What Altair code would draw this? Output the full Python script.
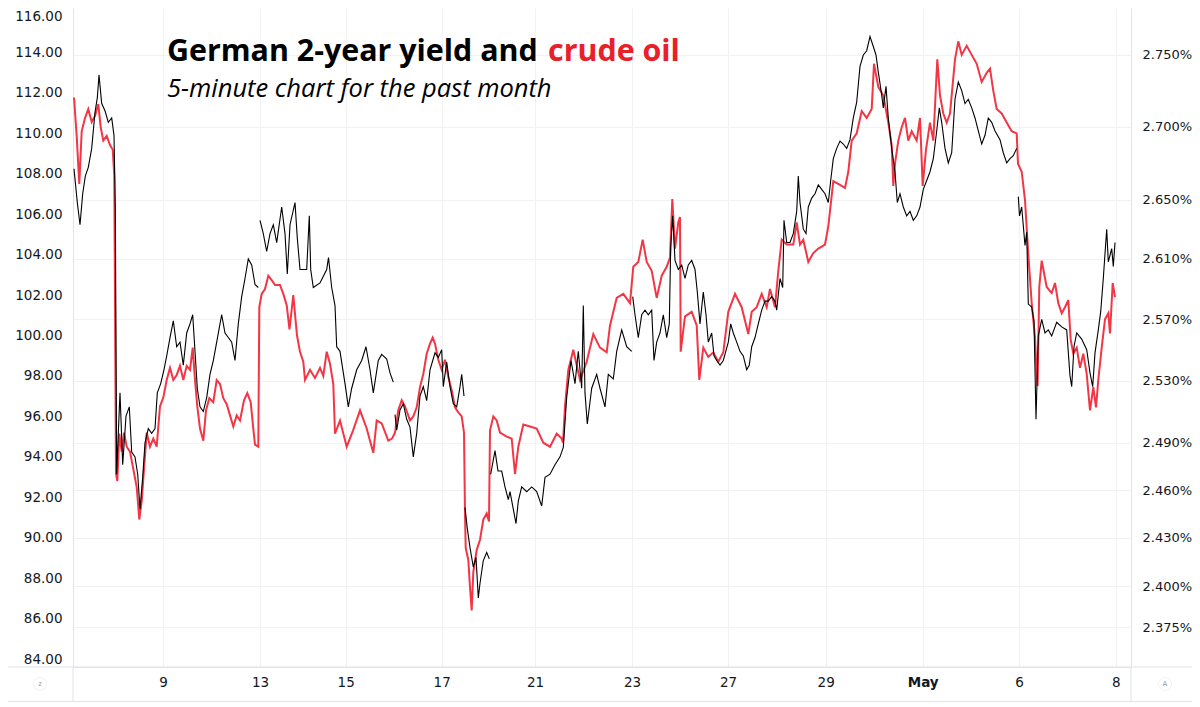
import altair as alt
import pandas as pd

# ---------------- data (trading hours since start, value) ----------------
# crude oil, USD (left axis)
oil_a = [(0.5,111.77),(1.85,109.87),(3.15,107.5),(4.35,110.1),(6,110.76),(7.65,111.2),(9.35,110.56),(11,110.86),
         (12.65,111.45),(13.85,110.3),(15.15,109.64),(16.85,109.87),(18.5,109.42),(19.85,109.2),(20.65,107.9),
         (21.5,93.15),(22.15,92.8),(23.15,95.15),(24.35,94.26),(25.5,95.2),(26.85,94.5),(28.5,94.26),(30.15,93.4),
         (31.85,92.5),(33.15,90.9),(34.35,91.8),(35.65,93.6),(36.85,95.2),(38.5,94.5),(40.15,94.9),(41.85,94.5),
         (43.5,96.5),(45.15,96.93),(46.85,97.8),(48.5,98.4),(50.15,97.8),(51.85,98.05),(53.5,98.5),(55.15,97.8),
         (56.85,98.5),(58.5,98.3),(59.85,99.4),(61,97.8),(62.15,96.5),(63.5,95.4),(65.15,94.8),(66.5,96.3),
         (68.15,96.9),(70.15,96.7),(71.85,97.8),(73.5,97.6),(75.15,96.9),(76.85,96.6),(78.5,96.05),(80.15,95.5),
         (81.85,96.05),(83.5,95.8),(85.5,96.8),(87.15,97.15),(88.85,96.7),(90.15,95.4),(91,94.6),(92.65,94.5)]
oil_b = [(93.15,101.4),(94.35,102.06),(96,102.3),(97.65,102.96),(99.35,102.74),(101,102.5),(103.5,102.5),
         (105.15,102.06),(106.85,101.5),(108.25,100.3),(110.15,102.0),(112,100.0),(113.5,99.2),(115.15,98.7),
         (116,97.8),(118.5,98.3),(121,97.9),(123.5,98.4),(125.15,98.0),(126.85,99.2),(128.5,98.6),(130.15,97.6),
         (131,95.15),(133.5,95.8),(136.85,94.5),(140,95.3),(143.5,96.3),(146.85,95.4),(148.5,94.8),(150.15,94.2),
         (151.85,95.8),(154.35,95.65),(157.65,94.8),(159.5,94.9),(161,95.2),(162.65,96.3),(164.35,96.8),(166,96.5),
         (168.5,95.8),(170.15,96.0),(171.85,96.45),(173.5,97.45),(175.15,98.1),(176.85,99.1),(178.5,99.6),
         (179.85,99.9),(181,99.6),(182.65,98.8),(184.35,98.3),(186,98.8),(187.65,97.95),(189.35,97.3),(191,96.45),
         (192.65,96.2),(194.35,96.0),(195.5,95.2),(196,91.2),(196.35,89.5),(197.65,88.9),(198.5,87.55),(199.35,86.4),
         (200.15,88.3),(201.85,89.4),(203.5,89.9),(205.15,90.9),(206.85,91.2),(208,90.8)]
oil_c = [(208.5,95.3),(210.15,96.0),(211.85,95.8),(213.5,95.2),(216.85,95.0),(219.35,94.9),(221,93.15),(222.65,94.5),
         (225.15,95.6),(228.5,95.5),(231.85,95.4),(235.15,94.7),(238.5,94.5),(241.85,95.15),(244.35,94.9),(245,94.7),
         (246,96.5),(247.65,98.3),(250.15,99.3),(253.5,97.8),(256.85,98.7),(260.15,100.07),(263.5,99.4),(266.85,99.17),
         (268.5,100.5),(271.85,101.86),(275.15,102.06),(278.5,101.6),(280.15,103.4),(282.65,103.64),(284.85,104.74),
         (286.85,103.64),(289.35,103.2),(291.85,101.86),(294.35,102.96),(296.85,103.4),(298.5,103.85),(299.65,106.75),
         (301,104.3),(302.65,105.6),(303.5,105.86),(303.85,99.2),(306,100.95),(309.35,101.17),(311.85,100.5),
         (313.15,97.8),(315.15,99.4),(317.65,98.94),(320.15,99.17),(322.65,98.7),(325.15,99.17)]
oil_d = [(327.65,101.17),(331,102.06),(334.35,101.4),(337.65,100.07),(339.35,101.17),(341.85,101.4),(344.35,102.06),
         (346.85,101.4),(348.5,102.3),(351,101.4),(352.65,103.2),(354.35,104.74),(356.85,104.5),(360.15,104.5),
         (361.85,105.6),(363.5,104.5),(365.15,104.74),(367.65,103.64),(370.15,104.08),(372.65,104.3),(376,104.5),
         (377.65,105.4),(380.15,107.64),(383.5,107.45),(386,107.3),(387.65,108.1),(389.35,109.64),(391.85,110.0),
         (394.35,111.1),(396.85,110.76),(399.35,111.2),(400.5,113.44),(402.65,112.3),(405.15,111.87),(407.65,110.53),
         (409.35,109.42),(410.15,107.4),(411,108.5),(412.65,109.64),(414.35,110.3),(416,110.76),(417.65,109.64),
         (419.35,110.1),(421.85,109.64),(423.5,110.76),(424.85,107.4),(426.5,109.2),(428.5,110.53),(430.15,109.64),
         (432.15,113.66),(433.5,111.87),(435.15,110.98),(436.85,110.53),(438.5,110.98)]
oil_e = [(441,113.66),(442.65,114.55),(444.35,113.88),(446.85,114.33),(449.35,113.88),(451.85,113.44),(454.35,112.54),
         (456.85,112.99),(458.5,113.2),(460.15,112.1),(461.85,111.2),(464.35,110.98),(466.85,110.53),(469.35,110.1),
         (471.85,110.0),(472.5,108.5),(474.35,108.1),(476,106.7),(477.65,104.0),(479.35,101.6),(481,99.9),
         (481.85,98.1),(482.3,97.5),(483.15,102.4),(484.35,103.7),(486.85,102.4),(489.35,102.1),(491,102.6),
         (492.65,101.6),(494.35,101.1),(496,101.4),(497.65,101.75),(498.85,99.8),(500.15,99.1),(501.85,99.4),
         (503.5,98.4),(505.15,99.1),(506.85,98.1),(508.5,96.3),(510.15,97.45),(511.5,96.45),(512.65,97.8),
         (514.35,99.4),(516,100.8),(517.65,101.1),(518.5,100.1),(519.85,102.6),(521,101.9)]

# German 2-year yield, % (right axis), one list per trading session block
yld_s1 = [(0.5,2.671),(2.15,2.648),(3.5,2.633),(4.85,2.654),(6.15,2.666),(7.65,2.672),(9.35,2.685),(11,2.710),
          (12.15,2.720),(13,2.736),(14.35,2.716),(16,2.711),(17.65,2.703),(19.35,2.706),(20.5,2.694),(21.15,2.645),
          (21.85,2.470),(22.65,2.496),(23.5,2.522),(24.85,2.476),(26.5,2.507),(28.15,2.513),(29.35,2.484),(31,2.481),
          (32.35,2.470),(33.5,2.448),(34.85,2.468),(36,2.490),(37.65,2.499),(39.35,2.496),(41,2.499),(42.15,2.522),
          (43.85,2.528),(45.5,2.537),(46.85,2.546),(48.5,2.558),(50.15,2.569),(51.85,2.552),(53.5,2.555),(55.15,2.540),
          (56.85,2.561),(58.5,2.567),(59.85,2.573),(61,2.549),(62.15,2.525),(63.5,2.513),(65.15,2.510),(66.85,2.519),
          (68.5,2.534),(70.15,2.543),(71.85,2.555),(73.5,2.567),(74.35,2.573),(76,2.561),(77.65,2.558),(79.35,2.555),
          (81,2.543),(82.65,2.567),(84.35,2.585),(86,2.597),(87.65,2.610),(89.35,2.606),(91,2.593),(92.65,2.591)]
yld_s2 = [(93.5,2.636),(95.15,2.627),(96.85,2.615),(98.5,2.627),(100.15,2.633),(101.85,2.621),(104.35,2.645),
          (106,2.627),(107.15,2.600),(108.5,2.633),(111,2.648),(112.15,2.624),(113.5,2.603),(116.85,2.603),
          (118.15,2.639),(118.85,2.603),(120.15,2.591),(123.5,2.594),(126.85,2.603),(127.75,2.611),(129.35,2.591),
          (131,2.579),(131.85,2.552),(133.5,2.549),(136,2.528),(137.65,2.513),(139.35,2.525),(141.85,2.537),
          (144.35,2.543),(146.5,2.552),(148.5,2.537),(150.15,2.522),(152.65,2.543),(154.35,2.547),(156.85,2.544),
          (158.5,2.535),(160.15,2.529)]
yld_s3 = [(161,2.508),(161.85,2.498),(163.5,2.511),(165.15,2.515),(166.85,2.505),(168.5,2.500),(170.15,2.481),
          (171.85,2.496),(173.5,2.520),(175.15,2.526),(176.85,2.517),(178.5,2.537),(181,2.548),(182.65,2.545),
          (184.35,2.550),(185.15,2.526),(186.85,2.542),(188.5,2.526),(190.15,2.515),(191.85,2.513),(193.5,2.526),
          (194.35,2.534),(195.5,2.520)]
yld_s4 = [(196,2.449),(197.15,2.436),(198.5,2.424),(200.15,2.412),(201.5,2.418),(202.65,2.393),(203.5,2.402),
          (205.15,2.416),(206.85,2.421),(208.15,2.417)]
yld_s5 = [(208.85,2.470),(211,2.485),(212.5,2.472),(214.35,2.472),(216,2.462),(217.65,2.454),(218.5,2.459),
          (220.15,2.448),(221.5,2.439),(222.65,2.453),(224.35,2.462),(226.85,2.459),(229.35,2.462),(231.85,2.459),
          (234.35,2.450),(236,2.468),(238.5,2.470),(241,2.476),(243.5,2.481),(245.15,2.487),(246.85,2.519),
          (249,2.543),(251,2.528),(252.65,2.549),(254.35,2.525),(255.15,2.579),(256,2.522),(257.15,2.502),
          (259.35,2.525),(261.85,2.534),(263.5,2.525),(266,2.513),(267.65,2.534),(270.15,2.531),(271.85,2.549),
          (274.35,2.563),(276.85,2.552),(279.35,2.549)]
yld_s6 = [(279.85,2.585),(281,2.573),(282.65,2.558),(284.35,2.573),(286,2.576),(287.65,2.573),(289.35,2.576),
          (290.5,2.543),(291.85,2.555),(293.5,2.561),(295.15,2.573),(296.85,2.558),(298.15,2.567),(298.85,2.618),
          (299.85,2.639),(301,2.609),(302.65,2.603),(304.35,2.606),(306,2.597),(307.65,2.606),(309.35,2.609),
          (311,2.603),(312.15,2.588),(313.5,2.567),(315.15,2.588),(316.5,2.573),(317.65,2.555),(319.35,2.561),
          (320.5,2.546),(321.85,2.543),(323.5,2.540),(325.15,2.543),(327.65,2.555),(328.85,2.567),(330.15,2.561),
          (331.85,2.555),(333.5,2.549),(335.15,2.546),(336.85,2.537),(338.15,2.540),(339.35,2.552),(341,2.558),
          (342.65,2.567),(344.35,2.576),(346,2.582),(347.65,2.582),(349.35,2.585),(351,2.582),(351.85,2.576)]
yld_s6b = [(353.5,2.597),(354.85,2.591),(355.5,2.636),(356.85,2.621),(358.5,2.621),(360.15,2.627),(361.85,2.642),
           (362.65,2.666),(363.5,2.648),(365.15,2.630),(366.5,2.627),(367.65,2.645),(369.35,2.651),(371,2.654),
           (372.65,2.660),(374.35,2.657),(376,2.654),(377.65,2.648),(378.85,2.663),(380.15,2.678),(381.85,2.685),
           (383.5,2.690),(385.15,2.688),(386.85,2.685),(388.5,2.691),(390.15,2.706),(391.85,2.717),(393.5,2.742),
           (395.15,2.750),(396.85,2.753),(398.5,2.763),(400.15,2.756),(401.5,2.750),(402.65,2.738),(404.35,2.722),
           (405.15,2.713),(406.5,2.728),(407.65,2.706),(409.35,2.685),(411,2.669),(412.15,2.648),(413.5,2.654),
           (415.15,2.645),(416.85,2.639),(418.5,2.642),(420.15,2.636),(421.85,2.639),(423.5,2.645),(425.15,2.657),
           (426.85,2.663),(428.5,2.669),(430.15,2.678),(431.85,2.697),(433.15,2.713),(434.35,2.703),(436,2.685),
           (437.65,2.675),(439.35,2.682),(441,2.719),(442.65,2.731),(444.35,2.725),(446,2.716),(447.65,2.719),
           (449.35,2.713),(451,2.706),(452.65,2.697),(454.35,2.688),(456,2.694),(457.65,2.706),(459.35,2.703),
           (461,2.697),(463.5,2.691),(465.15,2.682),(466.85,2.675),(468.5,2.678),(470.15,2.680),(471.85,2.685)]
yld_s7 = [(472.65,2.652),(473.25,2.639),(474.35,2.645),(476,2.619),(476.85,2.628),(477.65,2.580),(479.35,2.578),
          (480.5,2.569),(481.5,2.505),(482.65,2.559),(484.35,2.570),(486,2.561),(487.65,2.563),(489.35,2.559),
          (491.85,2.568),(494.35,2.565),(496.85,2.563),(498.5,2.533),(499.35,2.526),(500.5,2.552),(501.85,2.561),
          (504.35,2.557),(506.85,2.550),(508.5,2.535),(509.85,2.526),(511,2.548),(512.65,2.563),(513.85,2.575),
          (515.15,2.597),(516.85,2.630),(517.65,2.608),(519.35,2.617),(520.15,2.605),(521,2.621)]

# x-axis ticks (trading hours) and their labels
tick_pos = [45, 93.5, 136.35, 184.35, 231, 279.5, 327.5, 376.35, 424.85, 473, 521.35]
tick_lab = ["9", "13", "15", "17", "21", "23", "27", "29", "May", "6", "8"]
oil_ticks = list(range(84, 117, 2))
yld_ticks = [2.375, 2.400, 2.430, 2.460, 2.490, 2.530, 2.570, 2.610, 2.650, 2.700, 2.750]

title_black = "German 2-year yield and"
title_red = "crude oil"
subtitle = "5-minute chart for the past month"

# ---------------- build tables ----------------
oil_df = pd.DataFrame(oil_a + oil_b + oil_c + oil_d + oil_e, columns=["t", "oil"])
rows = []
for i, seg in enumerate([yld_s1, yld_s2, yld_s3, yld_s4, yld_s5, yld_s6 + yld_s6b, yld_s7]):
    for t, v in seg:
        rows.append({"t": t, "yld": v, "seg": i})
yld_df = pd.DataFrame(rows)

W, H = 1058, 659
PAD_R = 61
RED = "#f23645"
TITLE_RED = "#e8202a"
GRID = "#f0f2f5"
BORDER = "#e0e3eb"
TXT = "#131722"
AX_FONT = "DejaVu Sans"

lab_js = "[" + ",".join("'%s'" % s for s in tick_lab) + "]"
pos_js = "[" + ",".join(str(p) for p in tick_pos) + "]"

x_enc = alt.X(
    "t:Q",
    scale=alt.Scale(domain=[0, 529], nice=False, zero=False),
    axis=alt.Axis(
        values=tick_pos, labelExpr=f"{lab_js}[indexof({pos_js}, datum.value)]",
        title=None, grid=True, gridColor=GRID, ticks=False, tickSize=0,
        domain=True, domainColor=BORDER, labelFont=AX_FONT, labelFontSize=13.5,
        labelColor=TXT, labelPadding=8, labelFlush=False,
        labelFontWeight={"condition": {"test": "datum.value == 424.85", "value": "bold"}, "value": "normal"},
    ),
)

red = alt.Chart(oil_df).mark_line(color=RED, strokeWidth=2, clip=True).encode(
    x=x_enc,
    y=alt.Y("oil:Q",
            scale=alt.Scale(domain=[83.606, 116.198], nice=False, zero=False),
            axis=alt.Axis(orient="left", values=oil_ticks, format=".2f", title=None, grid=False,
                          ticks=False, tickSize=0, domainColor=BORDER, labelFont=AX_FONT,
                          labelFontSize=13.5, labelColor=TXT, labelPadding=11, labelFlush=False,
                          labelOffset={"condition": {"test": "datum.value == 116", "value": 4}, "value": 0})),
)

black = alt.Chart(yld_df).mark_line(color="#000000", strokeWidth=1.1, clip=True).encode(
    x=x_enc,
    y=alt.Y("yld:Q",
            scale=alt.Scale(type="log", domain=[2.351, 2.7833], nice=False, zero=False),
            axis=alt.Axis(orient="right", values=yld_ticks, labelExpr="format(datum.value, '.3f') + '%'",
                          title=None, grid=True, gridColor=GRID, ticks=False, tickSize=0,
                          domainColor=BORDER, labelFont=AX_FONT, labelFontSize=13, labelColor=TXT,
                          labelPadding=11, labelFlush=False)),
    detail="seg:N",
)

one = pd.DataFrame({"k": [0]})
frame = [
    alt.Chart(one).mark_rule(color=BORDER, strokeWidth=1).encode(x=alt.value(0), y=alt.value(H), y2=alt.value(H + 35)),
    alt.Chart(one).mark_rule(color=BORDER, strokeWidth=1).encode(x=alt.value(W), y=alt.value(H), y2=alt.value(H + 35)),
    alt.Chart(one).mark_rule(color=BORDER, strokeWidth=1).encode(x=alt.value(-65), x2=alt.value(W + PAD_R), y=alt.value(H)),
    alt.Chart(one).mark_rule(color=BORDER, strokeWidth=1).encode(x=alt.value(-65), x2=alt.value(W + PAD_R), y=alt.value(H + 34.5)),
]

icons = pd.DataFrame({"s": ["z", "A"], "px": [-33, 1092]})
icon_ring = alt.Chart(icons).mark_point(shape="circle", size=170, filled=False, color="#edeef2", strokeWidth=1).encode(
    x=alt.X("px:Q", scale=None), y=alt.value(676))
icon_txt = alt.Chart(icons).mark_text(font=AX_FONT, fontSize=7, color="#9598a1").encode(
    x=alt.X("px:Q", scale=None), y=alt.value(676), text="s:N")

t1 = alt.Chart(pd.DataFrame({"s": [title_black]})).mark_text(
    font="Open Sans", fontWeight="bold", fontSize=30.4, align="left", baseline="alphabetic", color="#000000"
).encode(x=alt.value(94), y=alt.value(53), text="s:N")
t2 = alt.Chart(pd.DataFrame({"s": [title_red]})).mark_text(
    font="Open Sans", fontWeight="bold", fontSize=30.4, align="left", baseline="alphabetic", color=TITLE_RED
).encode(x=alt.value(475), y=alt.value(53), text="s:N")
t3 = alt.Chart(pd.DataFrame({"s": [subtitle]})).mark_text(
    font="Open Sans", fontStyle="italic", fontSize=25.5, align="left", baseline="alphabetic", color="#000000"
).encode(x=alt.value(94), y=alt.value(88.5), text="s:N")

chart = alt.layer(red, black, *frame, icon_ring, icon_txt, t1, t2, t3).resolve_scale(
    y="independent"
).properties(
    width=W, height=H,
    autosize=alt.AutoSizeParams(type="none"),
    padding={"left": 65, "top": 0, "right": PAD_R, "bottom": 35},
    background="white",
).configure_view(stroke=None)

chart.save("out.html", embed_options={"renderer": "svg", "actions": False})
